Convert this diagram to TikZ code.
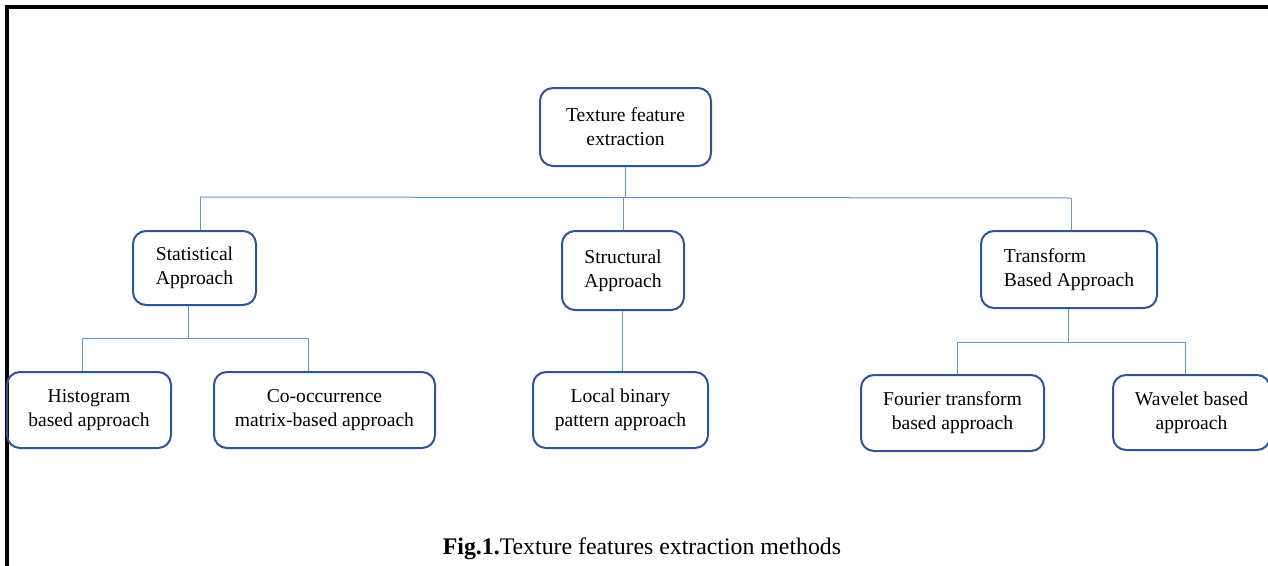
\documentclass[tikz,border=0pt]{standalone}
\usepackage{fontspec}
\setmainfont{Liberation Serif}
\begin{document}
\begin{tikzpicture}[x=1pt,y=-1pt,
  box/.style={draw=boxblue, line width=2pt, rounded corners=13pt, inner sep=0pt,
    align=center, font=\fontsize{19.6}{24}\selectfont},
  conn/.style={draw=lineblue, line width=1pt}]
\definecolor{boxblue}{HTML}{2F5496}
\definecolor{lineblue}{HTML}{5B9BD5}
\useasboundingbox (0,0) rectangle (1268,565);
% frame
\draw[line width=3.4pt, line cap=rect] (7,570) -- (7,7) -- (1272,7);
% nodes
\node[box, minimum width=171pt, minimum height=78pt] (top) at (625.5,127) {Texture feature\\extraction};
\node[box, minimum width=123pt, minimum height=74pt, align=left] (stat) at (194.5,268) {Statistical\\Approach};
\node[box, minimum width=122pt, minimum height=79pt] (struct) at (623,270.5) {Structural\\Approach};
\node[box, minimum width=176pt, minimum height=77pt, align=left] (trans) at (1069,269.5) {Transform\\ Based Approach};
\node[box, minimum width=164pt, minimum height=76pt] (hist) at (89,410) {Histogram\\based approach};
\node[box, minimum width=221pt, minimum height=76pt] (cooc) at (324.5,410) {Co-occurrence\\matrix-based approach};
\node[box, minimum width=175pt, minimum height=76pt] (lbp) at (620.5,410) {Local binary\\pattern approach};
\node[box, minimum width=183pt, minimum height=76pt] (four) at (952.5,413) {Fourier transform\\based approach};
\node[box, minimum width=157pt, minimum height=75pt] (wave) at (1191.5,412.5) {Wavelet based\\approach};
% bus coordinates
\coordinate (busL) at (200,197);
\coordinate (busR) at (1071,198);
\coordinate (sbusL) at (82,338);
\coordinate (sbusR) at (308,338);
\coordinate (tbusL) at (957,342);
\coordinate (tbusR) at (1185,342);
% connectors
\draw[conn] (busL) -- (busR);
\draw[conn] (top.south) -- (top.south |- busL);
\draw[conn] (busL) -- (busL |- stat.north);
\draw[conn] (struct.north |- busL) -- (struct.north);
\draw[conn] (busR) -- (busR |- trans.north);
\draw[conn] (stat.south -| 188,0) -- (188,338);
\draw[conn] (sbusL) -- (sbusR);
\draw[conn] (sbusL) -- (sbusL |- hist.north);
\draw[conn] (sbusR) -- (sbusR |- cooc.north);
\draw[conn] (struct.south -| 622,0) -- (lbp.north -| 622,0);
\draw[conn] (trans.south -| 1068,0) -- (1068,342);
\draw[conn] (tbusL) -- (tbusR);
\draw[conn] (tbusL) -- (tbusL |- four.north);
\draw[conn] (tbusR) -- (tbusR |- wave.north);
% caption
\node[font=\fontsize{23.8}{28}\selectfont, inner sep=0pt, anchor=base] (cap) at (642,554) {\textbf{Fig.1.}Texture features extraction methods};
\end{tikzpicture}
\end{document}
